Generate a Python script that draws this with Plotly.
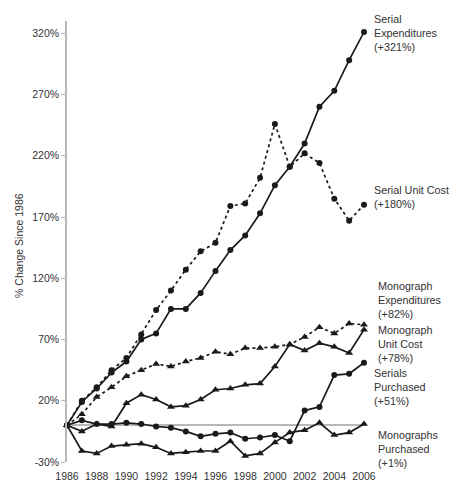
import plotly.graph_objects as go

years = list(range(1986, 2007))
serial_exp = [0, 19, 30, 43, 52, 70, 75, 95, 95, 108, 126, 143, 155, 173, 196, 211, 230, 260, 273, 298, 321]
serial_unit = [0, 20, 31, 45, 55, 74, 94, 110, 127, 142, 149, 179, 181, 202, 246, 211, 222, 214, 185, 167, 180]
mono_exp = [0, 9, 23, 31, 40, 45, 50, 48, 52, 55, 60, 58, 63, 63, 64, 66, 72, 80, 75, 83, 82]
mono_unit = [0, -5, 1, -1, 18, 25, 21, 15, 16, 21, 29, 30, 33, 34, 48, 66, 61, 67, 64, 59, 78]
serials_purch = [0, 4, 1, 1, 2, 1, -1, -2, -5, -9, -7, -6, -11, -10, -8, -13, 12, 15, 41, 42, 51]
mono_purch = [0, -21, -23, -17, -16, -15, -18, -23, -22, -21, -21, -13, -25, -23, -14, -6, -4, 2, -8, -6, 1]

ytick_vals = [-30, 20, 70, 120, 170, 220, 270, 320]
ytick_text = ["-30%", "20%", "70%", "120%", "170%", "220%", "270%", "320%"]
xtick_vals = list(range(1986, 2007, 2))

labels = [
    ("Serial<br>Expenditures<br>(+321%)", 320, 8),
    ("Serial Unit Cost<br>(+180%)", 186, 8),
    ("Monograph<br>Expenditures<br>(+82%)", 102, 12),
    ("Monograph<br>Unit Cost<br>(+78%)", 66, 12),
    ("Serials<br>Purchased<br>(+51%)", 31, 8),
    ("Monographs<br>Purchased<br>(+1%)", -19, 12),
]

LC = "#1a1a1a"
series = [
    (serial_exp, "solid", "circle", 6),
    (serial_unit, "dot", "circle", 6),
    (mono_exp, "dot", "triangle-up", 7),
    (mono_unit, "solid", "triangle-up", 7),
    (serials_purch, "solid", "circle", 6),
    (mono_purch, "solid", "triangle-up", 7),
]

fig = go.Figure()
for vals, dash, sym, size in series:
    fig.add_trace(go.Scatter(
        x=years, y=vals, mode="lines+markers",
        line=dict(color=LC, width=1.7, dash=dash),
        marker=dict(symbol=sym, size=size, color=LC),
        cliponaxis=False, showlegend=False,
    ))

annotations = []
for text, yv, xs in labels:
    annotations.append(dict(
        text=text, xref="paper", x=1, xshift=xs, xanchor="left",
        yref="y", y=yv, yanchor="middle", align="left", showarrow=False,
        font=dict(family="Liberation Sans, Arial", size=10.8, color="#333333"),
    ))
annotations.append(dict(
    text="% Change Since 1986", xref="paper", x=0, xshift=-48, xanchor="center",
    yref="paper", y=0.49, yanchor="middle", textangle=-90, showarrow=False,
    font=dict(family="Liberation Sans, Arial", size=10.5, color="#333333"),
))

fig.update_layout(
    width=449, height=482,
    margin=dict(l=67, r=85, t=21, b=20),
    paper_bgcolor="white", plot_bgcolor="white",
    font=dict(family="Liberation Sans, Arial", size=10.5, color="#333333"),
    annotations=annotations,
    xaxis=dict(
        range=[1986, 2006], tickvals=xtick_vals, ticktext=[str(v) for v in xtick_vals],
        showgrid=False, zeroline=False, showline=False, ticks="",
        tickfont=dict(size=10.5, color="#333333"), ticklabelstandoff=6,
        automargin=False,
    ),
    yaxis=dict(
        range=[-30, 330], tickvals=ytick_vals, ticktext=ytick_text,
        showgrid=False, zeroline=True, zerolinecolor="#b8b8b8", zerolinewidth=1.5,
        showline=True, linecolor="#b8b8b8", linewidth=1.5,
        ticks="outside", ticklen=4, tickcolor="#b8b8b8",
        tickfont=dict(size=10.5, color="#333333"), automargin=False,
    ),
)

fig.write_html(
    "out.html",
    config={"displayModeBar": False},
    post_script="document.body.style.margin='0';document.body.style.overflow='hidden';",
)
